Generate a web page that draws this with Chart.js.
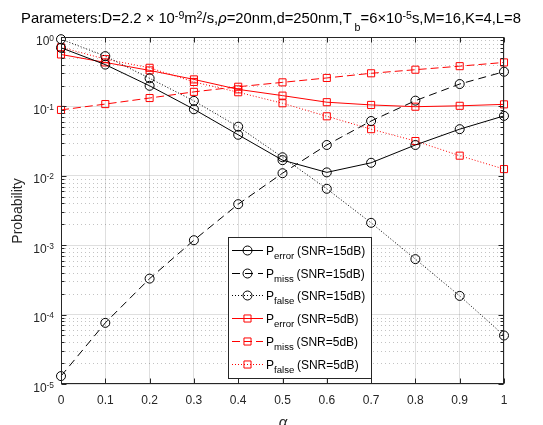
<!DOCTYPE html>
<html>
<head>
<meta charset="utf-8">
<script src="https://cdn.jsdelivr.net/npm/chart.js@4"></script>
<style>
  body { margin: 0; background: #fff; }
</style>
</head>
<body>
<canvas id="myChart" width="543" height="425"></canvas>
<script>
// alpha values on the x axis
const alphaValues = [0, 0.1, 0.2, 0.3, 0.4, 0.5, 0.6, 0.7, 0.8, 0.9, 1];

// SNR = 15dB
const pError15 = [0.70, 0.40, 0.198, 0.091, 0.039, 0.0168, 0.0112, 0.0154, 0.0278, 0.047, 0.073];
const pMiss15 = [1.3e-5, 7.6e-5, 3.3e-4, 1.18e-3, 3.9e-3, 0.0109, 0.0278, 0.0616, 0.121, 0.21, 0.316];
const pFalse15 = [0.93, 0.53, 0.254, 0.12, 0.051, 0.0185, 0.0065, 0.0021, 6.3e-4, 1.86e-4, 5.0e-5];

// SNR = 5dB
const pError5 = [0.56, 0.43, 0.33, 0.245, 0.176, 0.143, 0.115, 0.105, 0.099, 0.102, 0.107];
const pMiss5 = [0.089, 0.108, 0.132, 0.162, 0.192, 0.222, 0.257, 0.30, 0.338, 0.38, 0.43];
const pFalse5 = [0.71, 0.48, 0.36, 0.225, 0.16, 0.111, 0.072, 0.047, 0.0317, 0.0195, 0.0125];

const xTicks = [0, 0.1, 0.2, 0.3, 0.4, 0.5, 0.6, 0.7, 0.8, 0.9, 1];
const yDecades = [-5, -4, -3, -2, -1, 0];

const legendNames = ['error', 'miss', 'false', 'error', 'miss', 'false'];
const legendSnr = ['(SNR=15dB)', '(SNR=15dB)', '(SNR=15dB)', '(SNR=5dB)', '(SNR=5dB)', '(SNR=5dB)'];

const fontFam = "'Liberation Sans', Arial, Helvetica, sans-serif";
const axisClr = '#262626';
const clrRed = '#ff0000';

function toPoints(values)
{
	return alphaValues.map((a, i) => ({ x: a, y: values[i] }));
}

function makeSet(values, color, dash, marker)
{
	return {
		data: toPoints(values),
		borderColor: color,
		borderWidth: 1,
		borderDash: dash,
		backgroundColor: 'rgba(0,0,0,0)',
		pointStyle: marker,
		pointRadius: marker === 'rect' ? 5 : 4.5,
		pointBorderWidth: 1,
		pointBorderColor: color,
		pointBackgroundColor: 'rgba(0,0,0,0)',
		fill: false,
		tension: 0,
		clip: false
	};
}

const myData = {
	datasets: [
		makeSet(pError15, '#000000', [], 'circle'),
		makeSet(pMiss15, '#000000', [8, 5], 'circle'),
		makeSet(pFalse15, '#000000', [1, 2], 'circle'),
		makeSet(pError5, clrRed, [], 'rect'),
		makeSet(pMiss5, clrRed, [8, 4], 'rect'),
		makeSet(pFalse5, clrRed, [1, 2], 'rect')
	]
};

// draws a row of text pieces, some raised or lowered
function drawRich(ctx, parts, x, y, size, align)
{
	const fonts = parts.map(p => {
		let sz = size;
		if (p[1] === 'sup' || p[1] === 'sub') sz = size * p[2];
		return (p[1] === 'it' ? 'italic ' : '') + sz + 'px ' + fontFam;
	});
	const widths = parts.map((p, i) => { ctx.font = fonts[i]; return ctx.measureText(p[0]).width; });
	const total = widths.reduce((a, b) => a + b, 0);
	let cx = x;
	if (align === 'center') cx = x - total / 2;
	if (align === 'right') cx = x - total;
	ctx.textAlign = 'left';
	ctx.textBaseline = 'alphabetic';
	parts.forEach((p, i) => {
		ctx.font = fonts[i];
		let dy = 0;
		if (p[1] === 'sup') dy = -p[3];
		if (p[1] === 'sub') dy = p[3];
		ctx.fillText(p[0], cx, y + dy);
		cx += widths[i];
	});
}

function drawMarker(ctx, style, x, y, r)
{
	ctx.beginPath();
	if (style === 'rect') {
		const s = Math.SQRT1_2 * r;
		ctx.rect(x - s, y - s, 2 * s, 2 * s);
	} else {
		ctx.arc(x, y, r, 0, Math.PI * 2);
	}
	ctx.stroke();
}

const decorations = {
	id: 'decorations',
	beforeDatasetsDraw(chart)
	{
		const ctx = chart.ctx;
		const area = chart.chartArea;
		const yScale = chart.scales.y;
		ctx.save();
		ctx.strokeStyle = 'rgba(38,38,38,0.28)';
		ctx.lineWidth = 1;
		ctx.setLineDash([1, 3]);
		for (let e = -5; e < 0; e++) {
			for (let k = 2; k <= 9; k++) {
				const py = Math.round(yScale.getPixelForValue(k * Math.pow(10, e))) + 0.5;
				ctx.beginPath();
				ctx.moveTo(area.left, py);
				ctx.lineTo(area.right, py);
				ctx.stroke();
			}
		}
		ctx.restore();
	},
	afterDatasetsDraw(chart)
	{
		const ctx = chart.ctx;
		const area = chart.chartArea;
		const xScale = chart.scales.x;
		const yScale = chart.scales.y;
		const L = Math.round(area.left) + 0.5, R = Math.round(area.right) - 0.5;
		const T = Math.round(area.top) + 0.5, B = Math.round(area.bottom) - 0.5;
		ctx.save();

		// axes box
		ctx.strokeStyle = axisClr;
		ctx.lineWidth = 1;
		ctx.setLineDash([]);
		ctx.strokeRect(L, T, R - L, B - T);

		// inward tick marks
		ctx.beginPath();
		xTicks.forEach(v => {
			const px = Math.round(xScale.getPixelForValue(v)) + 0.5;
			ctx.moveTo(px, B); ctx.lineTo(px, B - 5);
			ctx.moveTo(px, T); ctx.lineTo(px, T + 5);
		});
		for (let e = -5; e <= 0; e++) {
			for (let k = 1; k <= 9; k++) {
				if (e === 0 && k > 1) break;
				const py = Math.round(yScale.getPixelForValue(k * Math.pow(10, e))) + 0.5;
				const len = k === 1 ? 5 : 3;
				ctx.moveTo(L, py); ctx.lineTo(L + len, py);
				ctx.moveTo(R, py); ctx.lineTo(R - len, py);
			}
		}
		ctx.stroke();

		// y tick labels 10^n
		ctx.fillStyle = axisClr;
		yDecades.forEach(e => {
			const py = yScale.getPixelForValue(Math.pow(10, e));
			drawRich(ctx, [['10', ''], [String(e), 'sup', 0.7, 4]], 54, py + 7.5, 12, 'right');
		});

		// axis titles
		ctx.save();
		ctx.translate(18, 211);
		ctx.rotate(-Math.PI / 2);
		ctx.font = '14px ' + fontFam;
		ctx.textAlign = 'center';
		ctx.textBaseline = 'middle';
		ctx.fillText('Probability', 0, 0);
		ctx.restore();
		ctx.font = 'italic 15px ' + fontFam;
		ctx.textAlign = 'center';
		ctx.textBaseline = 'alphabetic';
		ctx.fillText('\u03B1', 283, 427);

		// title
		ctx.fillStyle = '#000';
		drawRich(ctx, [
			['Parameters:D=2.2 ', ''], ['\u00D7', ''], [' 10', ''], ['-9', 'sup', 0.72, 4.5],
			['m', ''], ['2', 'sup', 0.72, 4.5], ['/s,', ''], ['\u03C1', 'it'],
			['=20nm,d=250nm,T', ''], [' b', 'sub', 0.72, 8], ['=6', ''], ['\u00D7', ''],
			['10', ''], ['-5', 'sup', 0.72, 4.5], ['s,M=16,K=4,L=8', '']
		], 271, 23, 14.8, 'center');

		// legend
		const bx = 228.5, by = 237.5, bw = 143, bh = 141;
		ctx.fillStyle = '#fff';
		ctx.fillRect(bx, by, bw, bh);
		ctx.strokeStyle = axisClr;
		ctx.lineWidth = 1;
		ctx.strokeRect(bx, by, bw, bh);
		chart.data.datasets.forEach((ds, i) => {
			const ry = Math.round(250 + i * 22.7) + 0.5;
			ctx.strokeStyle = ds.borderColor;
			ctx.lineWidth = 1;
			ctx.setLineDash(ds.borderDash);
			ctx.beginPath();
			ctx.moveTo(232, ry);
			ctx.lineTo(263, ry);
			ctx.stroke();
			ctx.setLineDash([]);
			drawMarker(ctx, ds.pointStyle, 247.5, ry, ds.pointRadius);
			ctx.fillStyle = '#000';
			drawRich(ctx, [['P', ''], [legendNames[i] + ' ', 'sub', 0.8, 4], [legendSnr[i], '']],
				266, ry + 4, 12, 'left');
		});

		ctx.restore();
	}
};

let chart = new Chart('myChart', {
	type: 'line',
	data: myData,
	options: {
		responsive: false,
		animation: false,
		devicePixelRatio: 1,
		layout: {
			padding: { left: 0, right: 39, top: 37, bottom: 0 }
		},
		scales: {
			x: {
				type: 'linear',
				min: 0,
				max: 1,
				afterBuildTicks: s => { s.ticks = xTicks.map(v => ({ value: v })); },
				afterFit: s => { s.height = 41; },
				ticks: {
					callback: v => String(Math.round(v * 10) / 10),
					font: { family: fontFam, size: 12 },
					color: axisClr,
					padding: 9,
					maxRotation: 0,
					autoSkip: false
				},
				grid: { color: 'rgba(38,38,38,0.15)', drawTicks: false },
				border: { display: false }
			},
			y: {
				type: 'logarithmic',
				min: 1e-5,
				max: 1,
				afterBuildTicks: s => { s.ticks = yDecades.map(e => ({ value: Math.pow(10, e) })); },
				afterFit: s => { s.width = 61; },
				ticks: { display: false },
				grid: { color: 'rgba(38,38,38,0.15)', drawTicks: false },
				border: { display: false }
			}
		},
		plugins: {
			legend: { display: false },
			tooltip: { enabled: false },
			title: { display: false }
		}
	},
	plugins: [decorations]
});
</script>
</body>
</html>
